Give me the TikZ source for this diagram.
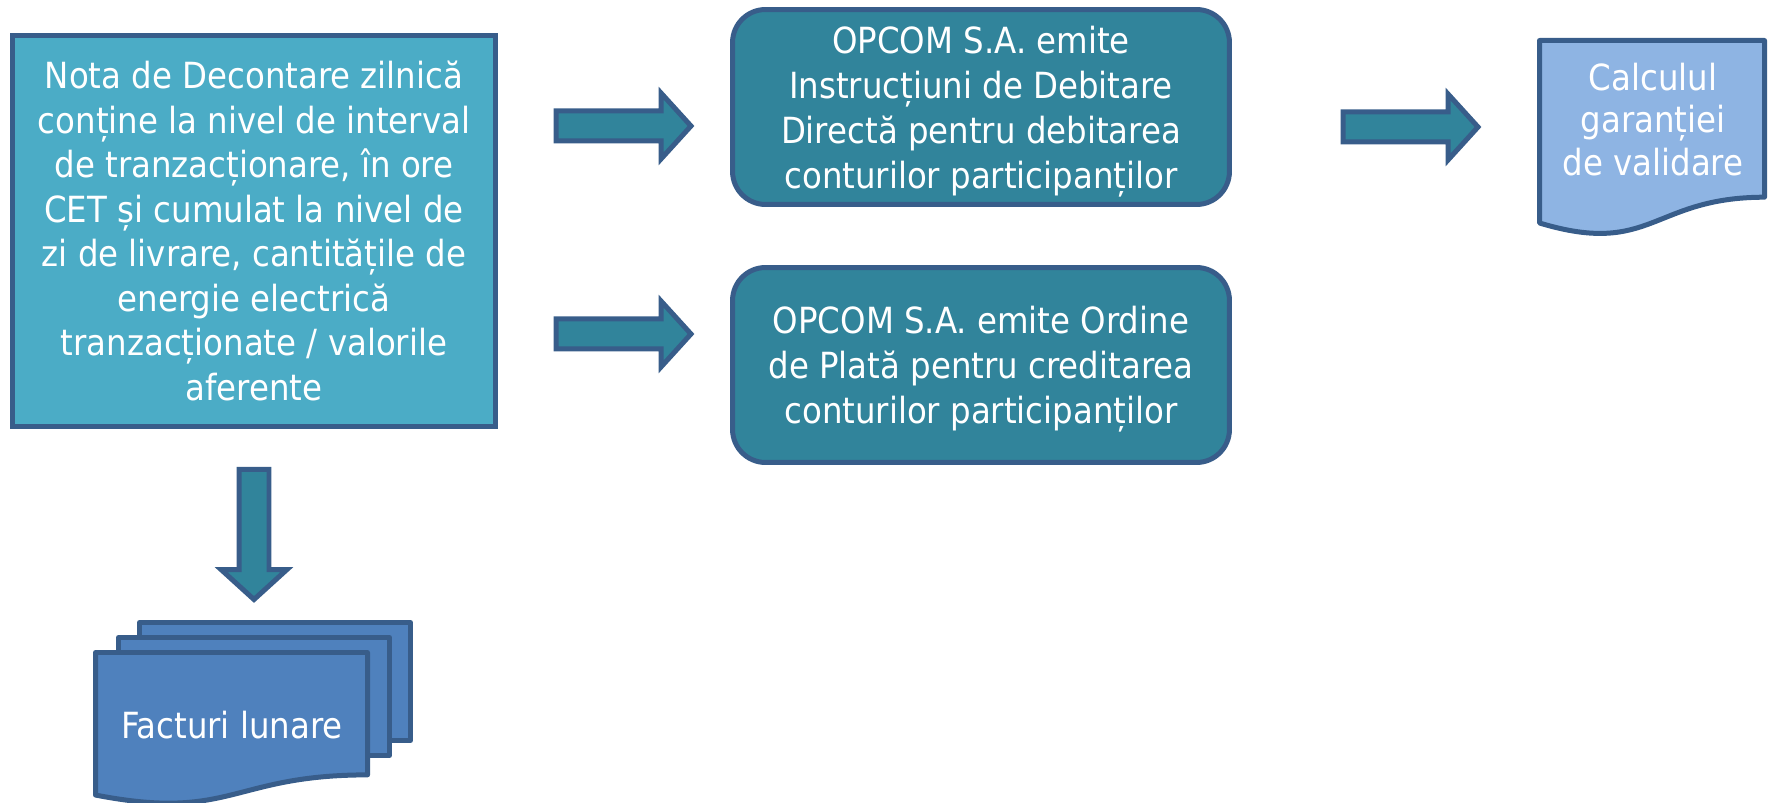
\documentclass[tikz,border=0pt]{standalone}
\usepackage{fontspec}
\setmainfont{DejaVu Sans Condensed}
\usetikzlibrary{calc}
\definecolor{NoteBlue}{RGB}{75,172,198}
\definecolor{TealBox}{RGB}{49,132,155}
\definecolor{EdgeBlue}{RGB}{56,93,138}
\definecolor{PaleBlue}{RGB}{142,180,227}
\definecolor{DocBlue}{RGB}{79,129,189}
\tikzset{
  notebox/.style={draw=EdgeBlue, line width=0.1cm, fill=NoteBlue, text=white, align=center,
    minimum width=9.66cm, minimum height=7.82cm, inner sep=0pt, font=\fontsize{20.5}{25.3}\selectfont},
  opbox/.style={draw=EdgeBlue, line width=0.1cm, fill=TealBox, rounded corners=0.66cm, text=white,
    align=center, minimum width=9.94cm, minimum height=3.9cm, inner sep=0pt, text depth=0pt,
    font=\fontsize{20.5}{25.6}\selectfont},
  blockarrow/.style={draw=EdgeBlue, line width=0.1cm, fill=TealBox, line join=miter},
  docpage/.style={draw=EdgeBlue, line width=0.1cm, line join=round},
  doctext/.style={text=white, align=center, inner sep=0pt, text depth=0pt,
    font=\fontsize{20.5}{24.2}\selectfont}
}
% wide arrow from #1 to #2
\newcommand{\fatarrow}[2]{%
  \coordinate (hb) at ($(#2)!0.6cm!(#1)$);
  \draw[blockarrow] ($(#1)!0.3cm!90:(#2)$) -- ($(hb)!0.3cm!-90:(#1)$) -- ($(hb)!0.66cm!-90:(#1)$)
    -- (#2) -- ($(hb)!0.66cm!90:(#1)$) -- ($(hb)!0.3cm!90:(#1)$) -- ($(#1)!0.3cm!-90:(#2)$) -- cycle;}
% document sheet with wavy bottom: style, left, top, width, height
\newcommand{\docsheet}[5]{%
  \draw[docpage,#1] (#2,#3) -- ++(#4,0) -- ++(0,0.802*#5)
    .. controls +(-0.5*#4,0) and +(0.5*#4,0.1735*#5) .. ++(-#4,0.132*#5) -- cycle;}

\begin{document}
\begin{tikzpicture}[x=0.02cm,y=-0.02cm]
  \useasboundingbox (0,0) rectangle (1772,803);

  % boxes
  \node[notebox] (nota) at (254,231) {Nota de Decontare zilnică\\
    conține la nivel de interval\\
    de tranzacționare, în ore\\
    CET și cumulat la nivel de\\
    zi de livrare, cantitățile de\\
    energie electrică\\
    tranzacționate / valorile\\
    aferente};
  \node[opbox] (debit) at (981,107) {OPCOM S.A. emite\\
    Instrucțiuni de Debitare\\
    Directă pentru debitarea\\
    conturilor participanților};
  \node[opbox] (credit) at (981,365) {OPCOM S.A. emite Ordine\\
    de Plată pentru creditarea\\
    conturilor participanților};

  % garantie document
  \docsheet{fill=PaleBlue}{1539.5}{40.5}{225}{195.4}
  \node[doctext] (garantie) at (1653,119) {Calculul\\ garanției\\ de validare};

  % facturi, three sheets
  \draw[docpage,fill=DocBlue] (139.5,622.5) rectangle (410.5,740.5);
  \draw[docpage,fill=DocBlue] (118.5,637.5) rectangle (389.5,755.5);
  \docsheet{fill=DocBlue}{95.5}{652.5}{272}{152.6}
  \node[doctext] (facturi) at (232,725) {Facturi lunare};

  % arrows
  \coordinate (a1s) at (556,126);  \coordinate (a1e) at (691,126);
  \coordinate (a2s) at (556,334);  \coordinate (a2e) at (691,334);
  \coordinate (a3s) at (1343,127); \coordinate (a3e) at (1478,127);
  \coordinate (a4s) at (254,469.5); \coordinate (a4e) at (254,599.5);
  \fatarrow{a1s}{a1e}
  \fatarrow{a2s}{a2e}
  \fatarrow{a3s}{a3e}
  \fatarrow{a4s}{a4e}
\end{tikzpicture}
\end{document}
